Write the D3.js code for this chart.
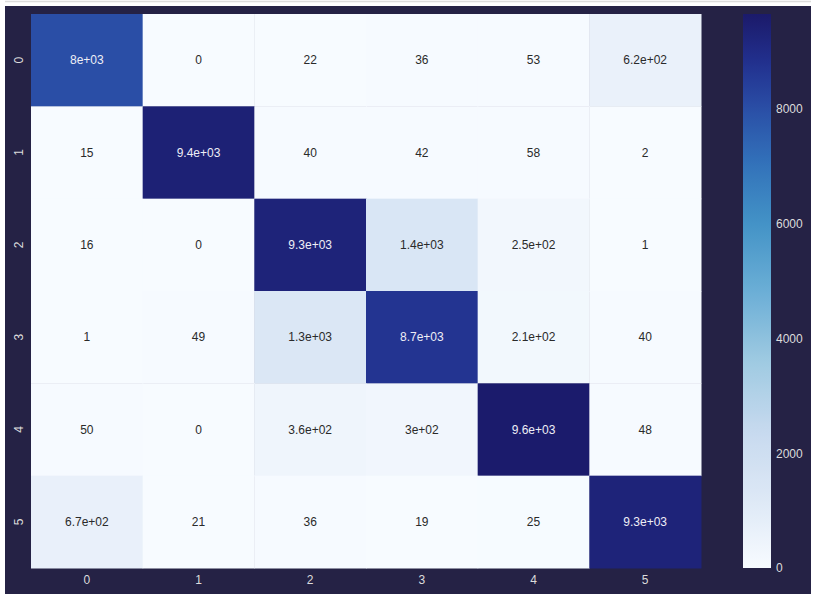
<!DOCTYPE html>
<html>
<head>
<meta charset="utf-8">
<script src="https://cdn.jsdelivr.net/npm/d3@7"></script>
<style>
  html, body { margin: 0; padding: 0; background: #ffffff; }
  svg { display: block; }
</style>
</head>
<body>
<svg id="chart" width="816" height="602"></svg>
<script>
// ---- data ----
const rowLabels = ["0", "1", "2", "3", "4", "5"];
const colLabels = ["0", "1", "2", "3", "4", "5"];
const row0 = [8000, 0, 22, 36, 53, 620];
const row1 = [15, 9400, 40, 42, 58, 2];
const row2 = [16, 0, 9300, 1400, 250, 1];
const row3 = [1, 49, 1300, 8700, 210, 40];
const row4 = [50, 0, 360, 300, 9600, 48];
const row5 = [670, 21, 36, 19, 25, 9300];
const matrix = [row0, row1, row2, row3, row4, row5];
const colorbarTicks = [0, 2000, 4000, 6000, 8000];
const vmin = 0, vmax = 9650;

// ---- layout ----
const svg = d3.select("#chart");
const bg = "#252245";
const hm = { x0: 31, x1: 701, y0: 14, y1: 568 };
const cb = { x0: 743, x1: 771 };

svg.append("line").attr("x1", 5).attr("x2", 811).attr("y1", 1.5).attr("y2", 1.5)
  .attr("stroke", "#dcdcdc").attr("stroke-width", 1.5);
svg.append("rect").attr("x", 5).attr("y", 6).attr("width", 806).attr("height", 588).attr("fill", bg);

// ---- colour ----
const stops = ["#f7fbff", "#dde8f6", "#c6d9ee", "#9ecae1", "#6baed6", "#4292c6", "#3272ba", "#2a4ea6", "#22318f", "#1b1a6a"];
const stopPos = [0, 0.125, 0.25, 0.375, 0.5, 0.625, 0.73, 0.83, 0.91, 1.0];
const interp = d3.scaleLinear().domain(stopPos).range(stops).interpolate(d3.interpolateRgb).clamp(true);
const color = v => interp((v - vmin) / (vmax - vmin));

const x = d3.scaleBand().domain(colLabels).range([hm.x0, hm.x1]);
const y = d3.scaleBand().domain(rowLabels).range([hm.y0, hm.y1]);

// python-like %.2g
function fmt2g(v) {
  if (v === 0) return "0";
  const e = Math.floor(Math.log10(Math.abs(v)));
  if (e < -4 || e >= 2) {
    let m = (v / Math.pow(10, e)).toFixed(1).replace(/\.0$/, "");
    return m + "e" + (e < 0 ? "-" : "+") + String(Math.abs(e)).padStart(2, "0");
  }
  return String(+v.toPrecision(2));
}
function luminance(c) {
  const rgb = d3.rgb(c);
  const f = u => { u /= 255; return u <= 0.03928 ? u / 12.92 : Math.pow((u + 0.055) / 1.055, 2.4); };
  return 0.2126 * f(rgb.r) + 0.7152 * f(rgb.g) + 0.0722 * f(rgb.b);
}

const cells = [];
matrix.forEach((row, i) => row.forEach((v, j) => cells.push({ r: rowLabels[i], c: colLabels[j], v })));

const g = svg.append("g");
g.selectAll("rect.cell").data(cells).join("rect")
  .attr("class", "cell")
  .attr("x", d => x(d.c)).attr("y", d => y(d.r))
  .attr("width", x.bandwidth() + 0.5).attr("height", y.bandwidth() + 0.5)
  .attr("fill", d => color(d.v));

g.selectAll("text.annot").data(cells).join("text")
  .attr("class", "annot")
  .attr("x", d => x(d.c) + x.bandwidth() / 2)
  .attr("y", d => y(d.r) + y.bandwidth() / 2)
  .attr("text-anchor", "middle").attr("dominant-baseline", "central")
  .attr("font-family", "Liberation Sans, Arial, sans-serif").attr("font-size", 12)
  .attr("fill", d => luminance(color(d.v)) > 0.408 ? "#2a2a2a" : "#eeeef6")
  .text(d => fmt2g(d.v));

// ---- axes ----
const tickColor = "#dcdcdc";
const xAxis = svg.append("g").attr("transform", `translate(0,${hm.y1})`)
  .call(d3.axisBottom(x).tickSize(0).tickPadding(7));
const yAxis = svg.append("g").attr("transform", `translate(${hm.x0},0)`)
  .call(d3.axisLeft(y).tickSize(0).tickPadding(0));
[xAxis, yAxis].forEach(a => {
  a.select(".domain").remove();
  a.selectAll("text").attr("fill", tickColor).attr("font-size", 12)
    .attr("font-family", "Liberation Sans, Arial, sans-serif");
});
yAxis.selectAll(".tick text")
  .attr("x", 0).attr("dy", 0)
  .attr("text-anchor", "middle").attr("dominant-baseline", "central")
  .attr("transform", "translate(-12,0) rotate(-90)");

// ---- colorbar ----
const cbScale = d3.scaleLinear().domain([vmin, vmax]).range([hm.y1, hm.y0]);
const defs = svg.append("defs");
const grad = defs.append("linearGradient").attr("id", "cbgrad")
  .attr("x1", 0).attr("x2", 0).attr("y1", 1).attr("y2", 0);
d3.range(0, 1.0001, 0.02).forEach(t => {
  grad.append("stop").attr("offset", t).attr("stop-color", interp(t));
});
svg.append("rect").attr("x", cb.x0).attr("y", hm.y0)
  .attr("width", cb.x1 - cb.x0).attr("height", hm.y1 - hm.y0)
  .attr("fill", "url(#cbgrad)");
const cbAxis = svg.append("g").attr("transform", `translate(${cb.x1},0)`)
  .call(d3.axisRight(cbScale).tickValues(colorbarTicks).tickSize(0).tickPadding(5).tickFormat(d3.format("d")));
cbAxis.select(".domain").remove();
cbAxis.selectAll("text").attr("fill", tickColor).attr("font-size", 12)
  .attr("font-family", "Liberation Sans, Arial, sans-serif");
</script>
</body>
</html>
